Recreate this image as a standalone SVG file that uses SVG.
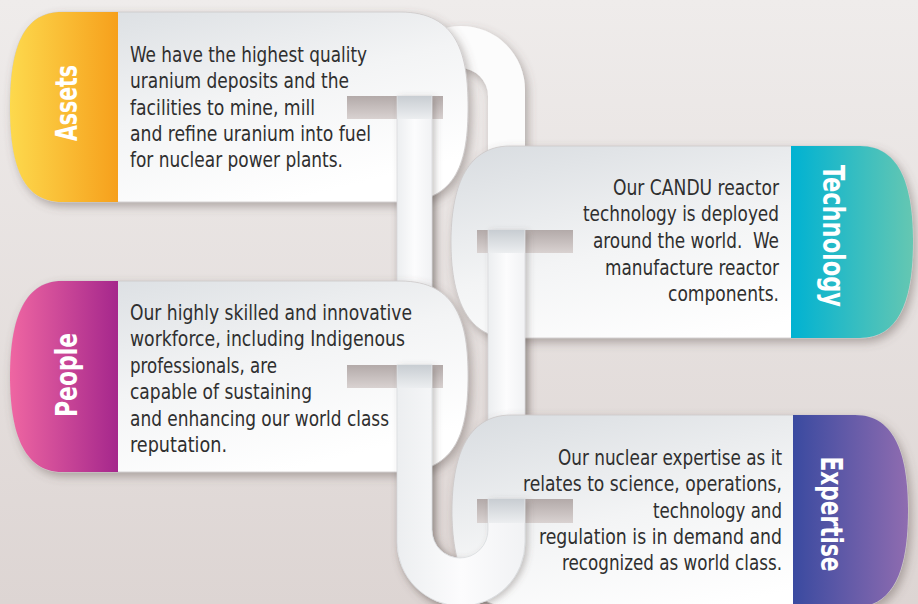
<svg xmlns="http://www.w3.org/2000/svg" width="918" height="604" viewBox="0 0 918 604">
<defs>
<linearGradient id="bg" x1="0" y1="0" x2="0" y2="1"><stop offset="0" stop-color="#efeceb"/><stop offset="1" stop-color="#ddd5d3"/></linearGradient>
<linearGradient id="body" x1="0" y1="0" x2="0.6" y2="1"><stop offset="0" stop-color="#d8dce0"/><stop offset="0.55" stop-color="#f3f4f5"/><stop offset="1" stop-color="#ffffff"/></linearGradient>
<linearGradient id="tabA" x1="0" y1="0" x2="1" y2="0"><stop offset="0" stop-color="#fdd94d"/><stop offset="1" stop-color="#f6a01c"/></linearGradient>
<linearGradient id="tabT" x1="0" y1="0" x2="1" y2="0"><stop offset="0" stop-color="#00b2d2"/><stop offset="1" stop-color="#65c7b2"/></linearGradient>
<linearGradient id="tabP" x1="0" y1="0" x2="1" y2="0"><stop offset="0" stop-color="#ef66a2"/><stop offset="1" stop-color="#a5278c"/></linearGradient>
<linearGradient id="tabE" x1="0" y1="0" x2="1" y2="0"><stop offset="0" stop-color="#3a4aa0"/><stop offset="1" stop-color="#8f6cb0"/></linearGradient>
<linearGradient id="slot" x1="0" y1="0" x2="0" y2="1"><stop offset="0" stop-color="#b3aaa9"/><stop offset="1" stop-color="#d9d2d1"/></linearGradient>
<linearGradient id="slotStrip" x1="0" y1="0" x2="0" y2="1"><stop offset="0" stop-color="#c8cdd2"/><stop offset="1" stop-color="#eceef0"/></linearGradient>
<linearGradient id="strip" x1="0" y1="0" x2="1" y2="0"><stop offset="0" stop-color="#eceef0"/><stop offset="0.5" stop-color="#fcfcfd"/><stop offset="1" stop-color="#f1f2f4"/></linearGradient>
<filter id="sh" x="-10%" y="-10%" width="130%" height="130%"><feDropShadow dx="3" dy="4" stdDeviation="5" flood-color="#5e5250" flood-opacity="0.42"/></filter>
<filter id="sh2" x="-20%" y="-10%" width="150%" height="130%"><feDropShadow dx="3" dy="2" stdDeviation="3" flood-color="#5e5250" flood-opacity="0.32"/></filter>
</defs>
<style>
.card{fill:url(#body);stroke:#cbc8c8;stroke-width:0.8;filter:url(#sh)}
.slot{fill:url(#slot)}
.ss{fill:url(#slotStrip)}
.t{font-family:"Liberation Sans Narrow","DejaVu Sans Condensed","Liberation Sans",sans-serif;font-size:21px;fill:#2f2f2f}
.r{text-anchor:end}
.lbl{font-family:"Liberation Sans Narrow","DejaVu Sans Condensed","Liberation Sans",sans-serif;font-weight:bold;font-size:30px;fill:#ffffff;text-anchor:middle}
.strip{fill:url(#strip);stroke:#d6d8db;stroke-width:0.7;filter:url(#sh2)}
</style>
<rect width="918" height="604" fill="url(#bg)"/>

<g id="connectors">
<path d="M397,90 A64,64 0 0 1 525,90 V542 A64,64 0 0 1 397,542 Z M432,96 A28,28 0 0 1 488,96 V530 A28,28 0 0 1 432,530 Z" fill="#fcfcfc" fill-rule="evenodd" filter="url(#sh)"/>
</g>

<g id="assets">
<path class="card" d="M62,12 H400 C458,12 468,55 468,107 C468,160 458,202 400,202 H62 C22,202 10,164 10,107 C10,50 22,12 62,12 Z"/>
<path fill="url(#tabA)" d="M118,12 H62 C22,12 10,50 10,107 C10,164 22,202 62,202 H118 Z"/>
<text class="lbl" transform="translate(77,103) rotate(-90)" textLength="76" lengthAdjust="spacingAndGlyphs">Assets</text>
<rect class="slot" x="347" y="96" width="96" height="23"/>
<text class="t" x="130" y="62" textLength="237" lengthAdjust="spacingAndGlyphs">We have the highest quality</text>
<text class="t" x="130" y="88" textLength="219" lengthAdjust="spacingAndGlyphs">uranium deposits and the</text>
<text class="t" x="130" y="115" textLength="185" lengthAdjust="spacingAndGlyphs">facilities to mine, mill</text>
<text class="t" x="130" y="141" textLength="241" lengthAdjust="spacingAndGlyphs">and refine uranium into fuel</text>
<text class="t" x="130" y="167" textLength="213" lengthAdjust="spacingAndGlyphs">for nuclear power plants.</text>
</g>

<g id="connector-front-1">
<rect class="strip" x="397" y="96" width="35" height="205"/>
<rect class="ss" x="397.4" y="96" width="34.2" height="23"/>
</g>

<g id="people">
<path class="card" d="M62,281 H400 C458,281 468,324 468,376 C468,429 458,472 400,472 H62 C22,472 10,429 10,376 C10,324 22,281 62,281 Z"/>
<path fill="url(#tabP)" d="M118,281 H62 C22,281 10,324 10,376 C10,429 22,472 62,472 H118 Z"/>
<text class="lbl" transform="translate(77,375) rotate(-90)" textLength="84" lengthAdjust="spacingAndGlyphs">People</text>
<rect class="slot" x="347" y="365" width="96" height="23"/>
<text class="t" x="130" y="320" textLength="282" lengthAdjust="spacingAndGlyphs">Our highly skilled and innovative</text>
<text class="t" x="130" y="346" textLength="275" lengthAdjust="spacingAndGlyphs">workforce, including Indigenous</text>
<text class="t" x="130" y="373" textLength="147" lengthAdjust="spacingAndGlyphs">professionals, are</text>
<text class="t" x="130" y="399" textLength="182" lengthAdjust="spacingAndGlyphs">capable of sustaining</text>
<text class="t" x="130" y="426" textLength="259" lengthAdjust="spacingAndGlyphs">and enhancing our world class</text>
<text class="t" x="130" y="452" textLength="97" lengthAdjust="spacingAndGlyphs">reputation.</text>
</g>

<g id="technology">
<path class="card" d="M510,146 H860 C902,146 913,190 913,242 C913,294 902,338 860,338 H510 C465,338 451,294 451,242 C451,190 465,146 510,146 Z"/>
<path fill="url(#tabT)" d="M791,146 H860 C902,146 913,190 913,242 C913,294 902,338 860,338 H791 Z"/>
<text class="lbl" transform="translate(823,236) rotate(90)" textLength="142" lengthAdjust="spacingAndGlyphs">Technology</text>
<rect class="slot" x="477" y="230" width="96" height="23"/>
<text class="t r" x="779" y="195" textLength="166" lengthAdjust="spacingAndGlyphs">Our CANDU reactor</text>
<text class="t r" x="779" y="221" textLength="196" lengthAdjust="spacingAndGlyphs">technology is deployed</text>
<text class="t r" x="779" y="248" textLength="186" lengthAdjust="spacingAndGlyphs" xml:space="preserve">around the world.  We</text>
<text class="t r" x="779" y="275" textLength="174" lengthAdjust="spacingAndGlyphs">manufacture reactor</text>
<text class="t r" x="779" y="301" textLength="111" lengthAdjust="spacingAndGlyphs">components.</text>
</g>

<g id="connector-front-2">
<rect class="strip" x="488" y="230" width="37" height="195"/>
<rect class="ss" x="488.4" y="230" width="36.2" height="23"/>
</g>

<g id="expertise">
<path class="card" d="M511,415 H855 C897,415 908,459 908,511 C908,563 897,607 855,607 H511 C466,607 452,563 452,511 C452,459 466,415 511,415 Z"/>
<path fill="url(#tabE)" d="M793,415 H855 C897,415 908,459 908,511 C908,563 897,607 855,607 H793 Z"/>
<text class="lbl" transform="translate(821,514) rotate(90)" textLength="115" lengthAdjust="spacingAndGlyphs">Expertise</text>
<rect class="slot" x="477" y="499" width="96" height="24"/>
<text class="t r" x="782" y="465" textLength="224" lengthAdjust="spacingAndGlyphs">Our nuclear expertise as it</text>
<text class="t r" x="782" y="491" textLength="259" lengthAdjust="spacingAndGlyphs">relates to science, operations,</text>
<text class="t r" x="782" y="518" textLength="129" lengthAdjust="spacingAndGlyphs">technology and</text>
<text class="t r" x="782" y="544" textLength="243" lengthAdjust="spacingAndGlyphs">regulation is in demand and</text>
<text class="t r" x="782" y="570" textLength="220" lengthAdjust="spacingAndGlyphs">recognized as world class.</text>
</g>

<g id="connector-front-3">
<path class="strip" d="M397,365 H432 V530 A28,28 0 0 0 488,530 V499 H525 V542 A64,64 0 0 1 397,542 Z"/>
<rect class="ss" x="397.4" y="365" width="34.2" height="23"/>
<rect class="ss" x="488.4" y="499" width="36.2" height="24"/>
</g>
</svg>
